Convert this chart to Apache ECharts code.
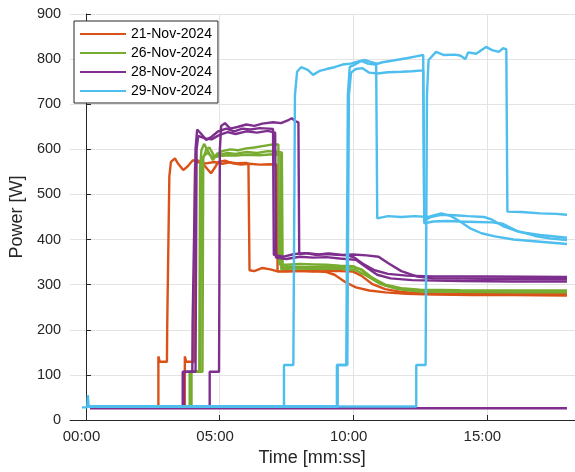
<!DOCTYPE html>
<html>
<head>
<meta charset="utf-8">
<script src="https://cdn.jsdelivr.net/npm/echarts@6/dist/echarts.min.js"></script>
<style>html,body{margin:0;padding:0;background:#fff}#c{width:575px;height:472px}</style>
</head>
<body>
<div id="c"></div>
<script>
// Legend / series names and colours
const dates = ['21-Nov-2024', '26-Nov-2024', '28-Nov-2024', '29-Nov-2024'];
const colors = ['#D95319', '#77AC30', '#7E2F8E', '#4DBEEE'];
// x tick values in minutes (labels shown as mm:ss)
const xTicks = [0, 5, 10, 15];
const yTicks = [0, 100, 200, 300, 400, 500, 600, 700, 800, 900];

// Each run: [time in minutes, power in W]
const nov21RunA = [[0.15,30],[2.71,30],[2.71,141],[2.76,129],[3.03,129],[3.04,207],[3.08,207],[3.12,540],[3.18,572],[3.33,580],[3.45,568],[3.64,554],[3.8,562],[4.0,576],[4.2,571],[4.5,569],[4.8,572],[5.1,568],[5.4,571],[5.7,569],[6.0,570],[6.08,568],[6.12,332],[6.3,330],[6.6,337],[6.9,334],[7.2,329],[7.6,331],[8.0,330],[8.5,331],[9.0,328],[9.3,322],[9.7,306],[10.1,294],[10.6,287],[11.2,283],[12,280],[13,278],[14.5,277],[16,277],[18,276]];
const nov21RunB = [[0.15,30],[3.70,30],[3.70,141],[3.75,129],[4.05,129],[4.08,560],[4.15,576],[4.35,570],[4.55,556],[4.68,547],[4.85,562],[4.95,572],[5.2,575],[5.5,569],[5.8,566],[6.1,568],[6.5,566],[6.9,567],[7.14,566],[7.17,330],[7.5,329],[8.0,331],[8.5,329],[9.0,330],[9.5,330],[10.0,329],[10.3,320],[10.7,302],[11.2,290],[11.8,284],[12.5,281],[14,279],[16,279],[18,279]];

const nov26RunA = [[0.15,30],[3.88,30],[3.88,107],[4.24,107],[4.27,560],[4.32,598],[4.42,612],[4.55,598],[4.75,576],[4.9,590],[5.1,596],[5.4,600],[5.7,598],[6.0,602],[6.3,604],[6.6,607],[6.9,610],[7.2,611],[7.23,345],[7.5,344],[8.0,346],[8.5,345],[9.0,344],[9.5,342],[10.0,341],[10.3,333],[10.7,315],[11.2,300],[11.8,292],[12.5,289],[14,288],[16,287],[18,287]];
const nov26RunB = [[0.15,30],[3.95,30],[3.95,107],[4.36,107],[4.39,580],[4.5,600],[4.62,604],[4.8,585],[5.0,588],[5.3,592],[5.6,590],[6.0,594],[6.4,592],[6.8,596],[7.1,595],[7.33,593],[7.36,338],[7.7,340],[8.2,339],[8.8,340],[9.4,339],[10.0,338],[10.3,334],[10.7,316],[11.2,298],[11.8,289],[12.5,285],[14,284],[16,283],[18,283]];
const nov26RunC = [[0.15,30],[3.92,30],[3.92,107],[4.28,107],[4.31,570],[4.4,585],[4.55,592],[4.75,582],[5.0,585],[5.3,587],[5.6,586],[6.0,588],[6.5,587],[7.0,589],[7.28,588],[7.31,334],[7.7,336],[8.3,335],[9.0,336],[9.6,335],[10.1,332],[10.5,320],[11.0,302],[11.6,292],[12.3,288],[14,286],[16,285],[18,285]];

const nov28RunA = [[0.15,26],[18.0,26]];
const nov28RunB = [[0.15,30],[3.62,30],[3.62,107],[3.98,107],[3.99,215],[4.05,215],[4.1,600],[4.16,644],[4.3,635],[4.5,621],[4.7,628],[4.95,640],[5.25,646],[5.55,640],[5.85,646],[6.15,644],[6.5,647],[6.85,646],[7.0,645],[7.03,366],[7.4,362],[7.8,368],[8.2,370],[8.6,366],[9.0,368],[9.4,366],[9.8,365],[10.05,360],[10.4,345],[10.8,332],[11.3,324],[12,320],[13,318],[15,318],[18,317]];
const nov28RunC = [[0.15,30],[3.66,30],[3.66,107],[4.1,107],[4.14,600],[4.2,630],[4.45,624],[4.7,622],[5.0,632],[5.3,638],[5.6,634],[6.0,640],[6.4,637],[6.8,641],[7.08,637],[7.11,360],[7.5,357],[8.0,362],[8.5,360],[9.0,361],[9.5,358],[10.1,355],[10.5,338],[10.9,322],[11.4,314],[12.2,310],[14,308],[16,307],[18,307]];
const nov28RunD = [[0.15,30],[4.63,30],[4.63,107],[4.98,107],[5.01,600],[5.06,652],[5.2,658],[5.4,646],[5.7,650],[6.0,655],[6.3,652],[6.6,657],[7.0,660],[7.3,658],[7.55,664],[7.7,669],[7.85,662],[7.95,660],[7.98,368],[8.3,370],[8.7,367],[9.1,369],[9.6,366],[10.0,367],[10.5,365],[10.95,362],[11.3,348],[11.8,330],[12.4,318],[13,314],[15,313],[18,312]];

const nov29RunA = [[-0.15,28],[0.05,28],[0.07,55],[0.1,30],[7.41,30],[7.41,122],[7.76,122],[7.82,720],[7.9,772],[8.05,782],[8.3,776],[8.5,765],[8.75,774],[9.0,778],[9.3,782],[9.6,788],[9.9,790],[10.2,795],[10.45,798],[10.7,793],[10.86,790],[10.9,447],[11.3,452],[11.8,450],[12.3,452],[12.8,450],[13.3,458],[13.66,452],[14.0,440],[14.4,424],[14.8,414],[15.3,407],[16,400],[17,395],[18,390]];
const nov29RunB = [[0.1,30],[9.39,30],[9.39,122],[9.74,122],[9.8,720],[9.87,783],[10.0,786],[10.3,796],[10.55,790],[10.8,788],[11.1,793],[11.5,797],[12.0,802],[12.35,806],[12.62,809],[12.66,442],[12.9,450],[13.3,455],[13.8,454],[14.3,452],[14.9,450],[15.2,444],[15.6,430],[16.2,417],[17,410],[18,404]];
const nov29RunC = [[0.1,30],[9.42,30],[9.42,122],[9.78,122],[9.84,720],[9.92,770],[10.1,778],[10.35,780],[10.6,770],[10.9,768],[11.3,771],[11.8,772],[12.2,773],[12.62,775],[12.66,436],[13.0,440],[13.5,441],[14.0,440],[14.6,439],[15.2,438],[15.6,435],[16.1,420],[16.8,408],[17.4,402],[18,399]];
const nov29RunD = [[0.1,30],[12.36,30],[12.36,122],[12.71,122],[12.76,720],[12.82,798],[13.1,816],[13.4,809],[13.8,810],[14.0,808],[14.2,800],[14.3,815],[14.6,812],[14.97,827],[15.2,820],[15.45,816],[15.6,824],[15.73,822],[15.77,462],[16.3,461],[17.0,458],[17.6,457],[18.0,455]];

const runsByDate = [
  [nov21RunA, nov21RunB],
  [nov26RunA, nov26RunB, nov26RunC],
  [nov28RunA, nov28RunB, nov28RunC, nov28RunD],
  [nov29RunA, nov29RunB, nov29RunC, nov29RunD]
];

const series = [];
runsByDate.forEach((runs, i) => {
  runs.forEach(run => {
    series.push({
      name: dates[i], type: 'line', data: run, symbol: 'none', showSymbol: false,
      color: colors[i], lineStyle: { width: 2.4, color: colors[i] }, animation: false
    });
  });
});

function pad(n) { return (n < 10 ? '0' : '') + n; }
const font = 'Liberation Sans, Arial, Helvetica, sans-serif';
const axisColor = '#262626';
const gridColor = '#e3e3e3';

const chart = echarts.init(document.getElementById('c'), null, { renderer: 'canvas' });
chart.setOption({
  animation: false,
  backgroundColor: '#ffffff',
  grid: { left: 66, top: 14, right: 0, bottom: 52, containLabel: false },
  legend: {
    data: dates, left: 74, top: 21, orient: 'vertical',
    itemWidth: 46, itemHeight: 14, itemGap: 5,
    padding: [6, 6, 5, 5],
    itemStyle: { opacity: 0 },
    lineStyle: { width: 2 },
    backgroundColor: '#ffffff', borderColor: axisColor, borderWidth: 1,
    textStyle: { fontFamily: font, fontSize: 14, color: '#000' }
  },
  xAxis: {
    type: 'value', min: -0.594, max: 18.3,
    name: 'Time [mm:ss]', nameLocation: 'middle', nameGap: 17,
    nameTextStyle: { fontFamily: font, fontSize: 18, color: axisColor, padding: [0, 21, 0, 0] },
    axisLine: { show: true, lineStyle: { color: axisColor, width: 1 } },
    axisTick: { show: true, inside: true, length: 5, customValues: xTicks, lineStyle: { color: axisColor } },
    axisLabel: {
      customValues: xTicks, margin: 9, fontFamily: font, fontSize: 15, color: axisColor,
      padding: [0, 9, 0, 0],
      formatter: v => { const m = Math.floor(v + 1e-9); const s = Math.round((v - m) * 60); return pad(m) + ':' + pad(s); }
    },
    splitLine: { show: true, lineStyle: { color: gridColor, width: 1 } }
  },
  yAxis: {
    type: 'value', min: yTicks[0], max: yTicks[yTicks.length - 1], interval: 100,
    name: 'Power [W]', nameLocation: 'middle', nameGap: 35,
    nameTextStyle: { fontFamily: font, fontSize: 18, color: axisColor },
    axisLine: { show: true, lineStyle: { color: axisColor, width: 1 } },
    axisTick: { show: true, inside: true, length: 5, lineStyle: { color: axisColor } },
    axisLabel: { margin: 9, fontFamily: font, fontSize: 14.5, color: axisColor },
    splitLine: { show: true, lineStyle: { color: gridColor, width: 1 } }
  },
  series: series
});
</script>
</body>
</html>
